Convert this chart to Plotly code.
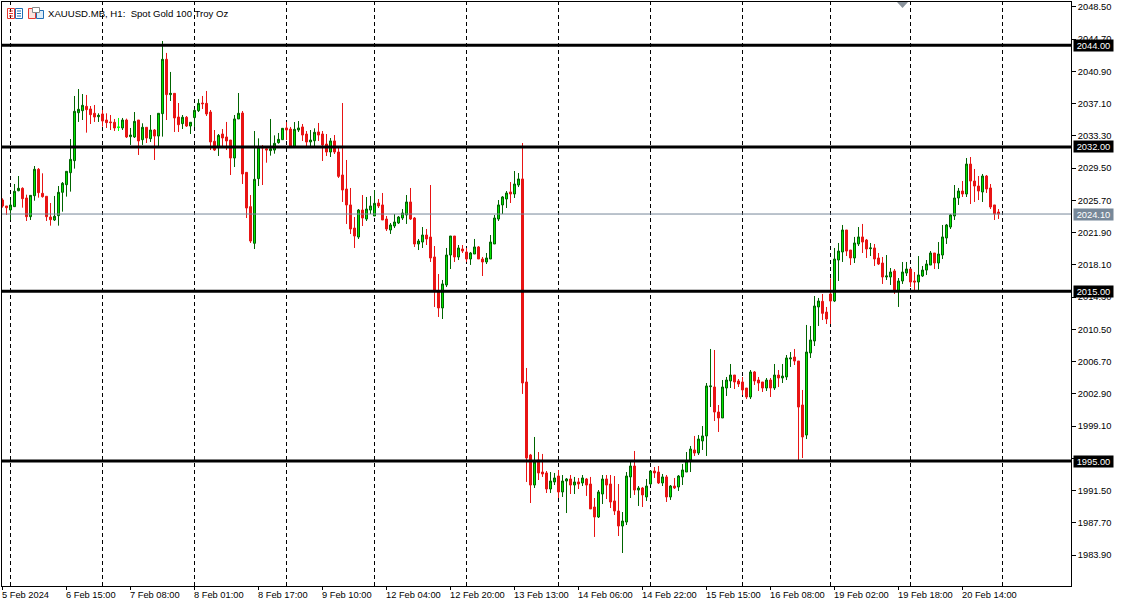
import plotly.graph_objects as go

opens = [2025.75,2025.05,2024.58,2024.97,2026.85,2027.13,2025.99,2023.79,2026.26,2029.37,
2026.54,2026.19,2023.75,2023.40,2023.91,2026.66,2027.56,2028.97,2030.39,2036.04,
2036.28,2036.79,2036.48,2035.97,2035.57,2035.89,2035.18,2034.95,2034.91,2034.28,
2034.24,2035.18,2033.22,2033.18,2035.18,2032.86,2034.32,2032.98,2034.00,2033.29,
2035.93,2042.33,2038.17,2038.32,2035.53,2034.75,2035.50,2034.47,2035.46,2036.28,
2037.18,2037.14,2036.12,2032.67,2031.96,2033.53,2033.18,2032.82,2030.70,2035.30,
2036.00,2029.01,2024.97,2020.65,2028.27,2032.04,2031.80,2031.57,2031.64,2032.51,
2032.86,2034.24,2034.12,2031.96,2034.00,2034.36,2033.53,2032.59,2032.74,2033.77,
2033.53,2032.35,2031.41,2032.71,2031.41,2028.70,2027.05,2025.17,2022.45,2021.39,
2024.57,2023.51,2024.57,2023.87,2025.40,2025.17,2023.51,2022.22,2022.69,2023.04,
2023.63,2023.99,2025.52,2023.63,2020.57,2020.80,2021.63,2021.39,2019.04,2014.91,
2013.03,2015.74,2019.27,2021.51,2019.04,2019.98,2019.63,2018.80,2019.39,2020.22,
2018.80,2018.45,2018.80,2020.57,2023.51,2025.17,2025.87,2026.70,2026.46,2027.52,
2028.23,2004.31,1995.71,1992.17,1995.12,1993.70,1993.59,1991.70,1992.53,1993.23,
1991.35,1992.64,1992.88,1992.17,1992.53,1992.41,1992.88,1992.29,1989.58,1988.40,
1991.11,1992.88,1992.29,1990.29,1989.11,1987.34,1987.81,1993.12,1994.41,1991.58,
1991.82,1990.76,1992.29,1993.82,1993.70,1992.41,1993.12,1990.76,1992.05,1991.94,
1993.12,1993.70,1995.12,1996.30,1995.94,1997.36,1997.95,2003.76,2003.72,2000.77,
2000.07,2003.60,2004.43,2005.13,2004.43,2004.31,2003.60,2002.54,2005.49,2004.54,
2004.31,2003.60,2004.54,2003.60,2005.13,2004.78,2004.90,2007.02,2007.25,2006.78,
2001.60,1998.06,2007.73,2009.14,2013.15,2013.81,2012.55,2014.68,2013.85,2018.68,
2019.63,2022.22,2019.86,2018.92,2020.57,2021.40,2021.04,2020.02,2020.10,2018.92,
2018.33,2016.68,2016.68,2017.39,2015.03,2016.21,2017.15,2017.62,2016.21,2016.09,
2016.80,2017.50,2018.09,2019.51,2018.33,2019.27,2021.28,2022.57,2023.87,2025.99,
2026.81,2026.46,2029.99,2027.99,2027.40,2026.70,2028.58,2027.17,2025.17,2024.34]

highs = [2025.95,2025.05,2025.75,2027.64,2028.58,2027.25,2026.38,2026.30,2029.76,2029.52,
2028.90,2026.19,2025.40,2026.23,2027.40,2027.87,2029.13,2032.94,2038.01,2038.83,
2038.24,2038.13,2036.83,2036.95,2035.97,2036.36,2035.97,2035.77,2035.30,2035.42,
2035.42,2035.34,2034.24,2036.12,2035.18,2034.79,2034.32,2035.77,2034.12,2035.97,
2044.49,2043.08,2040.84,2038.32,2037.18,2035.77,2035.65,2034.91,2036.48,2037.65,
2038.01,2038.60,2036.36,2034.00,2033.53,2034.12,2034.95,2032.82,2035.77,2038.36,
2036.24,2029.01,2026.34,2033.88,2033.02,2032.23,2031.96,2035.30,2033.37,2033.65,
2034.20,2034.94,2034.36,2034.94,2035.06,2034.71,2033.88,2034.00,2034.20,2034.83,
2033.88,2033.53,2033.06,2033.41,2031.96,2037.18,2030.47,2027.17,2023.75,2024.69,
2026.34,2026.11,2026.22,2026.93,2025.87,2026.58,2023.87,2023.04,2024.10,2023.87,
2024.69,2026.34,2027.17,2023.75,2021.16,2022.57,2022.34,2027.52,2020.33,2017.03,
2016.33,2020.10,2021.51,2021.51,2020.45,2020.45,2020.10,2019.63,2021.16,2020.33,
2019.04,2019.51,2021.63,2023.99,2025.75,2026.22,2026.81,2027.87,2029.17,2028.93,
2032.47,2005.96,1995.83,1997.83,1996.06,1995.83,1993.82,1993.70,1993.59,1993.94,
1993.35,1993.00,1993.35,1993.12,1993.00,1993.35,1993.00,1993.12,1990.64,1991.58,
1993.35,1993.35,1993.35,1993.23,1992.29,1988.99,1993.70,1994.88,1996.18,1992.05,
1991.94,1992.88,1993.82,1994.29,1994.41,1993.47,1993.35,1992.17,1993.00,1993.35,
1994.65,1996.06,1996.77,1997.95,1998.06,1999.12,2004.19,2008.20,2008.08,2001.60,
2004.54,2004.90,2006.43,2005.13,2004.66,2004.90,2003.60,2005.72,2005.60,2004.90,
2004.31,2004.78,2004.78,2006.43,2005.72,2006.43,2007.49,2007.84,2008.20,2006.78,
2003.37,2011.03,2010.91,2014.44,2014.21,2014.68,2013.15,2016.52,2020.10,2020.69,
2022.81,2022.22,2019.86,2021.40,2022.57,2022.93,2021.16,2020.69,2020.57,2019.51,
2019.04,2019.27,2017.74,2017.62,2016.56,2018.45,2018.45,2017.62,2017.27,2019.15,
2017.98,2018.68,2019.74,2019.51,2020.80,2022.81,2022.93,2024.10,2027.52,2027.17,
2027.99,2030.70,2030.82,2029.41,2028.58,2028.82,2028.70,2027.64,2025.17,2024.69]

lows = [2024.85,2023.99,2023.40,2024.97,2026.78,2024.85,2023.28,2023.40,2025.67,2026.03,
2026.03,2023.28,2022.73,2023.28,2022.73,2024.38,2026.15,2026.74,2029.45,2034.95,
2035.18,2033.69,2034.71,2034.95,2034.95,2034.40,2034.24,2034.00,2033.88,2033.88,
2034.00,2033.06,2032.24,2033.06,2031.06,2032.24,2032.47,2032.59,2030.47,2032.12,
2033.22,2035.18,2037.42,2033.77,2033.77,2034.12,2034.36,2033.53,2034.36,2036.12,
2036.48,2035.65,2031.64,2031.53,2030.94,2031.96,2031.64,2028.70,2029.64,2035.30,
2027.64,2023.63,2020.69,2019.98,2027.40,2027.52,2030.15,2030.98,2031.21,2032.39,
2032.86,2032.82,2031.96,2031.96,2033.77,2032.71,2032.04,2031.96,2031.96,2032.71,
2030.35,2030.94,2030.82,2031.17,2028.35,2025.52,2022.93,2021.75,2020.10,2021.16,
2022.69,2023.28,2024.10,2023.87,2024.81,2023.40,2022.10,2021.75,2022.45,2022.93,
2023.40,2022.93,2023.40,2020.22,2019.86,2020.10,2020.45,2018.45,2013.15,2011.97,
2011.73,2015.50,2017.62,2018.45,2018.68,2019.51,2018.45,2018.10,2019.39,2018.80,
2016.80,2018.21,2018.80,2020.57,2023.28,2024.10,2024.81,2025.40,2025.99,2027.28,
2002.90,1992.53,1990.05,1991.82,1992.76,1993.12,1991.23,1991.23,1992.17,1990.64,
1990.76,1988.87,1991.11,1991.11,1991.70,1992.05,1990.88,1989.35,1986.05,1988.28,
1989.93,1990.52,1989.46,1988.64,1986.16,1984.16,1987.46,1990.64,1991.00,1989.70,
1989.58,1990.29,1992.17,1993.00,1992.29,1992.05,1990.17,1990.41,1991.70,1991.47,
1992.17,1993.70,1993.70,1995.59,1995.71,1996.30,1995.59,2001.36,1999.71,1998.42,
2000.07,2002.66,2003.60,2003.48,2003.72,2002.78,2002.30,2002.30,2003.96,2003.25,
2003.13,2003.25,2002.54,2003.37,2003.72,2004.19,2004.54,2006.08,2006.31,1995.12,
1995.35,1997.59,2007.14,2008.55,2010.91,2011.61,2011.14,2011.14,2013.73,2016.21,
2018.45,2019.15,2018.09,2018.33,2020.33,2019.51,2018.92,2019.15,2017.98,2018.09,
2015.86,2016.33,2015.74,2014.68,2013.15,2015.86,2016.80,2015.50,2015.15,2015.15,
2016.68,2016.92,2018.09,2017.62,2017.62,2018.80,2020.57,2022.34,2023.40,2025.17,
2026.11,2026.11,2025.28,2025.52,2025.75,2025.52,2026.58,2024.69,2023.40,2023.52]

closes = [2025.05,2024.85,2025.16,2026.78,2027.13,2025.91,2023.79,2026.30,2029.37,2026.62,
2026.15,2023.79,2023.44,2023.83,2026.66,2027.72,2029.13,2030.54,2036.20,2036.44,
2036.91,2036.40,2035.81,2035.53,2035.73,2035.06,2034.87,2034.87,2034.24,2034.36,
2035.18,2033.18,2033.41,2035.02,2032.71,2034.32,2033.06,2034.00,2033.29,2035.97,
2042.33,2038.17,2038.32,2035.42,2034.63,2035.50,2034.47,2034.91,2036.32,2037.14,
2037.10,2035.89,2032.59,2031.64,2033.37,2033.06,2032.71,2030.70,2035.30,2035.97,
2028.82,2024.81,2020.92,2028.19,2031.96,2031.88,2031.64,2031.80,2032.43,2032.90,
2034.20,2034.00,2031.96,2034.08,2034.24,2033.41,2032.59,2032.82,2033.73,2033.41,
2032.23,2031.41,2032.71,2031.41,2028.54,2026.93,2025.17,2022.34,2021.51,2024.57,
2023.63,2024.69,2025.05,2025.36,2025.05,2023.40,2022.34,2022.81,2023.16,2023.75,
2024.22,2025.52,2023.51,2020.57,2020.92,2021.63,2021.16,2018.92,2015.15,2013.03,
2015.86,2019.27,2021.51,2019.04,2020.10,2019.74,2018.80,2019.51,2020.22,2018.80,
2018.45,2018.92,2020.80,2023.63,2025.17,2026.11,2026.58,2026.46,2027.64,2028.23,
2004.19,1995.35,1992.17,1994.88,1993.59,1993.47,1991.70,1992.64,1993.00,1991.35,
1992.64,1992.88,1992.17,1992.53,1992.29,1993.00,1992.17,1989.35,1988.40,1991.35,
1992.88,1992.17,1990.17,1989.11,1987.34,1987.93,1993.23,1994.41,1991.58,1991.82,
1991.00,1992.05,1993.82,1993.59,1992.41,1993.12,1990.76,1992.05,1991.82,1993.23,
1993.94,1995.00,1996.41,1995.94,1997.59,1997.95,2003.84,2003.84,2000.77,2000.07,
2003.72,2004.54,2005.13,2004.31,2004.07,2003.37,2002.54,2005.49,2004.43,2004.19,
2003.60,2004.54,2003.60,2005.13,2004.78,2005.01,2007.14,2007.14,2006.78,2001.36,
1997.83,2007.84,2009.26,2013.26,2013.85,2012.40,2011.73,2013.85,2018.80,2019.74,
2022.22,2019.74,2018.92,2020.69,2021.40,2020.80,2019.98,2020.10,2018.80,2018.21,
2016.68,2016.80,2017.27,2014.99,2016.21,2017.27,2017.62,2016.09,2016.09,2016.92,
2017.50,2018.21,2019.51,2018.33,2019.39,2021.40,2022.81,2023.99,2025.99,2026.81,
2026.46,2029.99,2027.99,2027.40,2026.81,2028.58,2027.05,2024.93,2024.10,2024.10]

lime_doji = [29]
bar_index = list(range(len(opens)))

price_ticks = [1983.90,1987.70,1991.50,1995.30,1999.10,2002.90,2006.70,2010.50,2014.30,2018.10,
               2021.90,2025.70,2029.50,2033.30,2037.10,2040.90,2044.70,2048.50]
time_tick_bars = [0,16,32,48,64,80,96,112,128,144,160,176,192,208,224,240]
time_tick_labels = ["5 Feb 2024","6 Feb 15:00","7 Feb 08:00","8 Feb 01:00","8 Feb 17:00","9 Feb 10:00",
                    "12 Feb 04:00","12 Feb 20:00","13 Feb 13:00","14 Feb 06:00","14 Feb 22:00",
                    "15 Feb 15:00","16 Feb 08:00","19 Feb 02:00","19 Feb 18:00","20 Feb 14:00"]
grid_bars = [2,25,48,71,93,116,139,162,185,207,227,250]
level_lines = [2044.00,2032.00,2015.00,1995.00]
last_price = 2024.10

FONT = "Liberation Sans, Arial"
AXIS_SIZE = 9.3
W, H = 1124, 605
ML, MR, MT, MB = 2, 53, 2, 19
PW, PH = W-ML-MR, H-MT-MB
def px(x): return (x-ML)/PW
def py(y): return 1-(y-MT)/PH

main = [i for i in bar_index if i not in lime_doji]
pick = lambda a, idx: [a[i] for i in idx]

fig = go.Figure()
fig.add_trace(go.Candlestick(
    x=main, open=pick(opens,main), high=pick(highs,main), low=pick(lows,main), close=pick(closes,main),
    increasing=dict(line=dict(color="#006400",width=1),fillcolor="#00E600"),
    decreasing=dict(line=dict(color="#E81414",width=1),fillcolor="#E81414"),
    whiskerwidth=0, hoverinfo="skip", showlegend=False))
fig.add_trace(go.Candlestick(
    x=lime_doji, open=pick(opens,lime_doji), high=pick(highs,lime_doji), low=pick(lows,lime_doji), close=pick(closes,lime_doji),
    increasing=dict(line=dict(color="#00FF00",width=1),fillcolor="#00FF00"),
    decreasing=dict(line=dict(color="#00FF00",width=1),fillcolor="#00FF00"),
    whiskerwidth=0, hoverinfo="skip", showlegend=False))

shapes = []
for g in grid_bars:
    shapes.append(dict(type="line", xref="x", yref="paper", x0=g, x1=g, y0=0, y1=1, layer="below",
                       line=dict(color="black", width=1, dash="4px,3px")))
for lv in level_lines:
    shapes.append(dict(type="line", xref="paper", yref="y", x0=0, x1=1, y0=lv, y1=lv, layer="above",
                       line=dict(color="black", width=3)))
shapes.append(dict(type="line", xref="paper", yref="y", x0=0, x1=1, y0=last_price, y1=last_price, layer="above",
                   line=dict(color="#778899", width=1)))

def rect(x0,y0,x1,y1,color,fill="rgba(0,0,0,0)"):
    shapes.append(dict(type="rect", xref="paper", yref="paper", x0=px(x0), x1=px(x1), y0=py(y0), y1=py(y1),
                       line=dict(color=color,width=1), fillcolor=fill, layer="above"))
def seg(x0,y0,x1,y1,color):
    shapes.append(dict(type="line", xref="paper", yref="paper", x0=px(x0), x1=px(x1), y0=py(y0), y1=py(y1),
                       line=dict(color=color,width=1), layer="above"))
# toolbar icons
rect(7.5,8.5,14.5,18.5,"#E8392F"); rect(15.5,8.5,22.5,18.5,"#1F6FB5")
for yy in (11,13.5,16):
    seg(9,yy,13,yy,"#E8392F"); seg(17,yy,21,yy,"#1F6FB5")
rect(28.5,8.5,35.5,18.5,"#E8392F","#FBE3DF"); rect(36.5,10.5,43.5,18.5,"#1F6FB5","#DCEBF7")
rect(32.5,7.5,39.5,12.5,"#8A8A8A","#FFFFFF")
# one-click marker at the top edge
shapes.append(dict(type="path", xref="paper", yref="paper",
    path=f"M {px(897)} {py(2)} L {px(908)} {py(2)} L {px(902.5)} {py(8)} Z",
    fillcolor="#8A939C", line=dict(width=0), layer="above"))

ann = []
for b, t in zip(time_tick_bars, time_tick_labels):
    ann.append(dict(x=b, xref="x", y=0, yref="paper", text=t, showarrow=False, xanchor="left", yanchor="top",
                    xshift=-3, yshift=-2, font=dict(family=FONT,size=AXIS_SIZE,color="black")))
for lv in level_lines:
    ann.append(dict(x=1, xref="paper", y=lv, yref="y", text=f"{lv:.2f}", showarrow=False, xanchor="left",
                    xshift=2, width=39, height=11, align="center", valign="middle", borderpad=0,
                    bgcolor="black", font=dict(family=FONT,size=AXIS_SIZE,color="white")))
ann.append(dict(x=1, xref="paper", y=last_price, yref="y", text=f"{last_price:.2f}", showarrow=False, xanchor="left",
                xshift=2, width=39, height=11, align="center", valign="middle", borderpad=0,
                bgcolor="#778899", font=dict(family=FONT,size=AXIS_SIZE,color="white")))
ann.append(dict(x=px(46), xref="paper", y=py(13.5), yref="paper", text="XAUUSD.MB, H1:  Spot Gold 100 Troy Oz",
                showarrow=False, xanchor="left", yanchor="middle", font=dict(family=FONT,size=9.6,color="black")))

fig.update_layout(
    width=W, height=H, margin=dict(l=ML,r=MR,t=MT,b=MB,pad=0),
    paper_bgcolor="white", plot_bgcolor="white", showlegend=False, boxmode="overlay", boxgap=0.5, boxgroupgap=0,
    shapes=shapes, annotations=ann,
    xaxis=dict(range=[-0.125,267.125], rangeslider=dict(visible=False), showgrid=False, zeroline=False,
               showline=True, linecolor="black", linewidth=1, mirror=True,
               tickmode="array", tickvals=time_tick_bars, ticktext=[""]*len(time_tick_bars),
               ticks="outside", ticklen=3, tickcolor="black", tickwidth=1),
    yaxis=dict(range=[1980.271,2049.084], side="right", showgrid=False, zeroline=False,
               showline=True, linecolor="black", linewidth=1, mirror=True,
               tickmode="array", tickvals=price_ticks, ticktext=[f"{v:.2f}" for v in price_ticks],
               ticks="outside", ticklen=4, tickcolor="black", tickwidth=1,
               tickfont=dict(family=FONT,size=AXIS_SIZE,color="black")),
)
fig.write_html("out.html", post_script="document.body.style.margin='0';document.body.style.overflow='hidden';",
               config=dict(displayModeBar=False))
